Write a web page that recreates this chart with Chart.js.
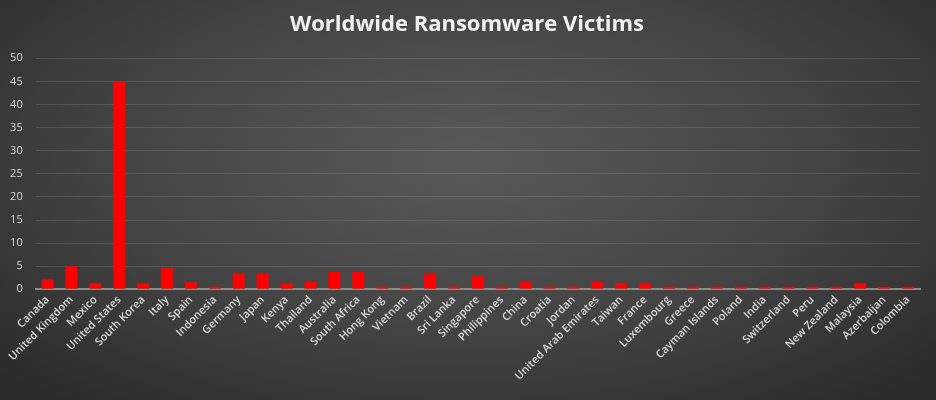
<!DOCTYPE html>
<html>
<head>
<meta charset="utf-8">
<script src="https://cdn.jsdelivr.net/npm/chart.js@4.4.0/dist/chart.umd.min.js"></script>
<style>
  html, body { margin: 0; padding: 0; }
  body {
    width: 936px; height: 400px; overflow: hidden;
    background: radial-gradient(ellipse 70% 80% at 50% 40%, #595959 0%, #434343 55%, #2a2a2a 100%);
  }
  #wrap { width: 936px; height: 400px; position: relative; }
</style>
</head>
<body>
<div id="wrap"><canvas id="c"></canvas></div>
<script>
const categories = [
  "Canada", "United Kingdom", "Mexico", "United States", "South Korea", "Italy", "Spain",
  "Indonesia", "Germany", "Japan", "Kenya", "Thailand", "Australia", "South Africa",
  "Hong Kong", "Vietnam", "Brazil", "Sri Lanka", "Singapore", "Philippines", "China",
  "Croatia", "Jordan", "United Arab Emirates", "Taiwan", "France", "Luxembourg", "Greece",
  "Cayman Islands", "Poland", "India", "Switzerland", "Peru", "New Zealand", "Malaysia",
  "Azerbaijan", "Colombia"
];
const victims = [
  2.1, 5.0, 1.3, 45, 1.3, 4.6, 1.6,
  0.5, 3.4, 3.4, 1.3, 1.7, 3.8, 3.8,
  0.5, 0.5, 3.4, 0.5, 2.9, 0.5, 1.7,
  0.5, 0.5, 1.7, 1.3, 1.3, 0.5, 0.5,
  0.5, 0.5, 0.5, 0.5, 0.5, 0.5, 1.3,
  0.5, 0.5
];
const yTicks = [0, 5, 10, 15, 20, 25, 30, 35, 40, 45, 50];
const chartTitle = "Worldwide Ransomware Victims";

// shift title box so it is centred like the reference
const titleShift = {
  id: 'titleShift',
  afterLayout(chart) {
    if (chart.titleBlock) { chart.titleBlock.left += 14; }
  }
};

new Chart(document.getElementById('c'), {
  type: 'bar',
  data: {
    labels: categories,
    datasets: [{
      data: victims,
      backgroundColor: '#ff0000',
      borderWidth: 0,
      barPercentage: 0.5,
      categoryPercentage: 1.0
    }]
  },
  plugins: [titleShift],
  options: {
    responsive: true,
    maintainAspectRatio: false,
    animation: false,
    layout: { padding: { left: 0, right: 16, top: 0, bottom: 0 } },
    plugins: {
      legend: { display: false },
      tooltip: { enabled: false },
      title: {
        display: true,
        text: chartTitle,
        color: '#f2f2f2',
        font: { family: 'Open Sans', size: 22, weight: 'bold' },
        padding: { top: 12, bottom: 19.9 }
      }
    },
    scales: {
      x: {
        grid: { display: false, drawTicks: false },
        border: { display: true, color: '#8c8c8c', width: 2 },
        afterFit: (s) => { s.height = 110.7; },
        ticks: {
          autoSkip: false,
          minRotation: 45,
          maxRotation: 45,
          padding: 4,
          color: '#d9d9d9',
          font: { family: 'Open Sans', size: 11, weight: '600' }
        }
      },
      y: {
        min: 0,
        max: 50,
        afterFit: (s) => { s.width = 35.7; },
        afterBuildTicks: (s) => { s.ticks = yTicks.map(v => ({ value: v })); },
        border: { display: false },
        grid: {
          drawTicks: false,
          color: (ctx) => ctx.tick && ctx.tick.value === 0 ? 'rgba(0,0,0,0)' : 'rgba(255,255,255,0.12)',
          lineWidth: 1
        },
        ticks: {
          padding: 13,
          color: '#d9d9d9',
          font: { family: 'Open Sans', size: 11 }
        }
      }
    }
  }
});
</script>
</body>
</html>
